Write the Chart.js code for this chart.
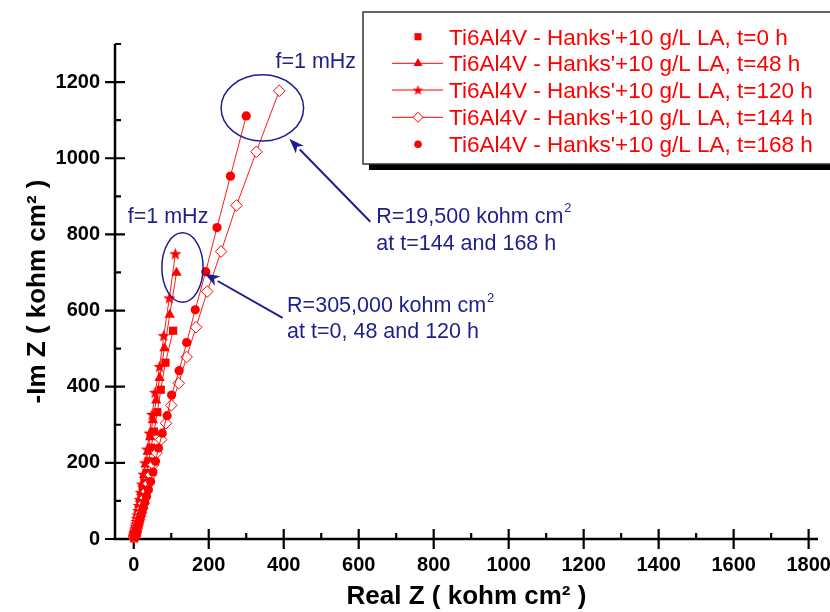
<!DOCTYPE html>
<html>
<head>
<meta charset="utf-8">
<script src="https://cdn.jsdelivr.net/npm/chart.js@4.4.1/dist/chart.umd.min.js"></script>
<style>
  html, body { margin: 0; padding: 0; background: #ffffff; }
  #wrap { width: 830px; height: 612px; position: relative; }
</style>
</head>
<body>
<div id="wrap"><canvas id="nyquist" width="830" height="612"></canvas></div>
<script>
// Nyquist data for Ti6Al4V in Hanks' + 10 g/L LA (kohm cm^2), low -> high frequency
const seriesLabels = [
  "Ti6Al4V - Hanks'+10 g/L LA, t=0 h",
  "Ti6Al4V - Hanks'+10 g/L LA, t=48 h",
  "Ti6Al4V - Hanks'+10 g/L LA, t=120 h",
  "Ti6Al4V - Hanks'+10 g/L LA, t=144 h",
  "Ti6Al4V - Hanks'+10 g/L LA, t=168 h"
];

const reZ_t0 = [105, 84.5, 72, 63, 54, 46, 39.5, 34, 29, 25, 21.5, 18.4, 15.7, 13.4, 11.5, 9.8, 8.4, 7.2, 6.1, 5.2, 4.5, 3.8, 3.3, 2.8, 2.4, 2, 1.7, 1.5, 1.3, 1.1];
const imZ_t0 = [547, 463, 392, 333, 282, 240, 204, 173, 147, 125, 106, 90, 77, 65, 55, 47, 40, 34, 29, 24.5, 21, 17.8, 15.1, 12.8, 10.9, 9.3, 7.9, 6.7, 5.7, 4.8];

const reZ_t48 = [114, 96, 82, 69, 60, 51, 44, 37.5, 32, 27.5, 23.5, 20, 17, 14.6, 12.5, 10.7, 9.1, 7.8, 6.7, 5.7, 4.9, 4.2, 3.6, 3.1, 2.6, 2.2, 1.9, 1.6, 1.4, 1.2, 1, 0.9];
const imZ_t48 = [699, 589, 501, 423, 364, 312, 267, 229, 196, 168, 144, 123, 105, 90, 77, 66, 56, 48, 41, 35, 30, 25.5, 21.8, 18.6, 15.9, 13.6, 11.6, 9.9, 8.5, 7.2, 6.2, 5.3];

const reZ_t120 = [111, 95, 80, 69, 57, 49, 42, 36, 30.5, 26, 22, 19, 16, 13.7, 11.7, 10, 8.6, 7.3, 6.2, 5.3, 4.5, 3.8, 3.3, 2.8, 2.4, 2, 1.7, 1.5, 1.3, 1.1, 0.9, 0.8];
const imZ_t120 = [749, 633, 534, 453, 385, 327, 278, 236, 200, 170, 144, 122, 104, 88, 75, 63, 54, 46, 39, 33, 28, 24, 20, 17, 14.5, 12.3, 10.4, 8.8, 7.5, 6.3, 5.4, 4.6];

const reZ_t144 = [388, 327, 274, 233, 196, 166, 141, 120, 100, 86, 73, 61, 52, 45, 39, 34, 29.5, 25.5, 22, 19, 16.5, 14.2, 12.3, 10.6, 9.2, 8, 6.9, 6, 5.2, 4.5, 3.9, 3.4, 3, 2.6, 2.3, 2, 1.8];
const imZ_t144 = [1177, 1017, 876, 755, 650, 556, 478, 409, 351, 304, 261, 226, 195, 168, 145, 125, 108, 93, 80, 69, 59.5, 51, 44, 38, 32.7, 28, 24, 20.7, 17.8, 15.3, 13.2, 11.3, 9.7, 8.3, 7.1, 6.1, 5.2];

const reZ_t168 = [300, 258, 222, 192, 164, 141, 121, 101, 89, 76, 66, 58, 51, 45, 39, 34, 29.5, 25.5, 22, 19, 16.5, 14.3, 12.4, 10.7, 9.3, 8.1, 7, 6.1, 5.3, 4.6, 4, 3.5, 3, 2.6, 2.3, 2, 1.7];
const imZ_t168 = [1111, 953, 818, 702, 602, 516, 442, 378, 324, 278, 239, 204, 176, 151, 130, 112, 96, 83, 72, 62, 53, 46, 40, 34.5, 29.8, 25.7, 22.2, 19.1, 16.5, 14.2, 12.3, 10.6, 9.1, 7.9, 6.8, 5.9, 5.1];

const xTickValues = [0, 200, 400, 600, 800, 1000, 1200, 1400, 1600, 1800];
const yTickValues = [0, 200, 400, 600, 800, 1000, 1200];

const RED = '#ff0000';
const NAVY = '#1e1e8c';
const FONT = "'Liberation Sans', Arial, sans-serif";

// five-pointed filled star used as a marker
function makeStar(r, color) {
  const s = Math.ceil(r * 2 + 2);
  const c = document.createElement('canvas');
  c.width = s; c.height = s;
  const g = c.getContext('2d');
  g.translate(s / 2, s / 2 + 0.5);
  g.beginPath();
  for (let i = 0; i < 10; i++) {
    const rr = i % 2 ? r * 0.42 : r;
    const a = -Math.PI / 2 + i * Math.PI / 5;
    g.lineTo(rr * Math.cos(a), rr * Math.sin(a));
  }
  g.closePath();
  g.fillStyle = color;
  g.fill();
  return c;
}
const starMarker = makeStar(6.5, RED);

const pts = (xs, ys) => xs.map((x, i) => ({ x: x, y: ys[i] }));

const markerStyles = [
  { pointStyle: 'rect', radius: 5.8, bg: RED, border: RED, bw: 0, legendLine: false },
  { pointStyle: 'triangle', radius: 6, bg: RED, border: RED, bw: 0, legendLine: true },
  { pointStyle: starMarker, radius: 6, bg: RED, border: RED, bw: 0, legendLine: true },
  { pointStyle: 'rectRot', radius: 5.8, bg: '#ffffff', border: RED, bw: 1, legendLine: true },
  { pointStyle: 'circle', radius: 4.6, bg: RED, border: RED, bw: 0, legendLine: false }
];

const seriesData = [
  pts(reZ_t0, imZ_t0),
  pts(reZ_t48, imZ_t48),
  pts(reZ_t120, imZ_t120),
  pts(reZ_t144, imZ_t144),
  pts(reZ_t168, imZ_t168)
];

const datasets = seriesData.map((d, i) => ({
  label: seriesLabels[i],
  data: d,
  showLine: true,
  borderColor: RED,
  borderWidth: 0.9,
  pointStyle: markerStyles[i].pointStyle,
  pointRadius: markerStyles[i].radius,
  pointBackgroundColor: markerStyles[i].bg,
  pointBorderColor: markerStyles[i].border,
  pointBorderWidth: markerStyles[i].bw,
  clip: false,
  order: 4 - i
}));

// axis lines with crossing major ticks and inward minor ticks
const axesPlugin = {
  id: 'originAxes',
  beforeDatasetsDraw(chart) {
    const { ctx, chartArea: a, scales: { x, y } } = chart;
    ctx.save();
    ctx.strokeStyle = '#000';
    ctx.lineWidth = 2.5;
    ctx.lineCap = 'butt';
    ctx.beginPath();
    ctx.moveTo(a.left, a.top); ctx.lineTo(a.left, a.bottom + 1.25);
    ctx.moveTo(a.left - 1.25, a.bottom); ctx.lineTo(a.right, a.bottom);
    ctx.stroke();
    ctx.lineWidth = 2.2;
    ctx.beginPath();
    for (let v = 0; v <= x.max; v += 100) {
      const px = x.getPixelForValue(v);
      const major = v % 200 === 0;
      ctx.moveTo(px, a.bottom - (major ? 10 : 6));
      ctx.lineTo(px, a.bottom + (major ? 10 : 0));
    }
    for (let v = 0; v <= y.max; v += 100) {
      const py = y.getPixelForValue(v);
      const major = v % 200 === 0;
      ctx.moveTo(a.left - (major ? 10 : 0), py);
      ctx.lineTo(a.left + (major ? 10 : 6), py);
    }
    ctx.stroke();
    ctx.restore();
  }
};

function textWithSup(ctx, text, sup, x, y, size) {
  ctx.font = size + 'px ' + FONT;
  ctx.fillText(text, x, y);
  const w = ctx.measureText(text).width;
  ctx.font = Math.round(size * 0.62) + 'px ' + FONT;
  ctx.fillText(sup, x + w + 1, y - size * 0.5);
}

function arrow(ctx, x1, y1, x2, y2) {
  const ang = Math.atan2(y2 - y1, x2 - x1);
  const len = 15, half = 5.5;
  const bx = x2 - len * Math.cos(ang), by = y2 - len * Math.sin(ang);
  ctx.beginPath();
  ctx.moveTo(x1, y1); ctx.lineTo(bx, by);
  ctx.stroke();
  ctx.beginPath();
  ctx.moveTo(x2, y2);
  ctx.lineTo(bx + half * Math.sin(ang), by - half * Math.cos(ang));
  ctx.lineTo(bx + 4 * Math.cos(ang), by + 4 * Math.sin(ang));
  ctx.lineTo(bx - half * Math.sin(ang), by + half * Math.cos(ang));
  ctx.closePath();
  ctx.fill();
}

// f=1 mHz markings and resistance notes
const notesPlugin = {
  id: 'notes',
  afterDraw(chart) {
    const { ctx, scales: { x, y } } = chart;
    const P = (vx, vy) => [x.getPixelForValue(vx), y.getPixelForValue(vy)];
    ctx.save();
    ctx.strokeStyle = NAVY;
    ctx.fillStyle = NAVY;
    ctx.lineWidth = 1.5;

    // ellipses around the lowest-frequency points
    const ell = [
      { cx: 343, cy: 1132, rx: 110, ry: 87 },
      { cx: 130, cy: 713, rx: 55, ry: 91 }
    ];
    ell.forEach(e => {
      const [cx, cy] = P(e.cx, e.cy);
      const rx = Math.abs(x.getPixelForValue(e.cx + e.rx) - cx);
      const ry = Math.abs(y.getPixelForValue(e.cy + e.ry) - cy);
      ctx.beginPath();
      ctx.ellipse(cx, cy, rx, ry, 0, 0, Math.PI * 2);
      ctx.stroke();
    });

    ctx.lineWidth = 2;
    let a = P(631, 833), b = P(415, 1051);
    arrow(ctx, a[0], a[1], b[0], b[1]);
    a = P(397, 581); b = P(189, 697);
    arrow(ctx, a[0], a[1], b[0], b[1]);

    ctx.textBaseline = 'alphabetic';
    ctx.textAlign = 'left';
    ctx.font = '21.5px ' + FONT;
    let p = P(378, 1238);
    ctx.fillText('f=1 mHz', p[0], p[1]);
    p = P(-16, 829);
    ctx.fillText('f=1 mHz', p[0], p[1]);

    p = P(647, 830);
    textWithSup(ctx, 'R=19,500 kohm cm', '2', p[0], p[1], 21.5);
    ctx.font = '21.5px ' + FONT;
    ctx.fillText('at t=144 and 168 h', p[0], p[1] + 27);

    p = P(409, 595);
    textWithSup(ctx, 'R=305,000 kohm cm', '2', p[0], p[1], 21.5);
    ctx.font = '21.5px ' + FONT;
    ctx.fillText('at t=0, 48 and 120 h', p[0], p[1] + 26);
    ctx.restore();
  }
};

// boxed legend with drop shadow
const legendPlugin = {
  id: 'boxLegend',
  afterDraw(chart) {
    const ctx = chart.ctx;
    const bx = 363, by = 12, bw = 480, bh = 152;
    ctx.save();
    ctx.fillStyle = '#000';
    ctx.fillRect(bx + 6, by + 6, bw, bh);
    ctx.fillStyle = '#fff';
    ctx.fillRect(bx, by, bw, bh);
    ctx.strokeStyle = '#333';
    ctx.lineWidth = 1.5;
    ctx.strokeRect(bx, by, bw, bh);

    const rows = [36.7, 63.3, 90, 117.3, 144.3];
    const symX = 418;
    chart.data.datasets.forEach((ds, i) => {
      const ry = rows[i];
      const m = markerStyles[i];
      if (m.legendLine) {
        ctx.strokeStyle = RED;
        ctx.lineWidth = 1;
        ctx.beginPath();
        ctx.moveTo(392, ry); ctx.lineTo(443, ry);
        ctx.stroke();
      }
      if (typeof m.pointStyle === 'string') {
        ctx.fillStyle = m.bg;
        ctx.strokeStyle = m.border;
        ctx.lineWidth = m.bw;
        Chart.helpers.drawPoint(ctx, { pointStyle: m.pointStyle, radius: m.radius - 0.8, rotation: 0, borderWidth: m.bw }, symX, ry);
      } else {
        const st = makeStar(5.5, RED);
        ctx.drawImage(st, symX - st.width / 2, ry - st.height / 2);
      }
      ctx.fillStyle = RED;
      ctx.font = '22.5px ' + FONT;
      ctx.textBaseline = 'alphabetic';
      ctx.textAlign = 'left';
      ctx.fillText(ds.label, 449, ry + 8);
    });
    ctx.restore();
  }
};

const plainNumber = v => String(v);

new Chart(document.getElementById('nyquist'), {
  type: 'scatter',
  data: { datasets: datasets },
  plugins: [axesPlugin, notesPlugin, legendPlugin],
  options: {
    responsive: false,
    animation: false,
    devicePixelRatio: 1,
    layout: { padding: { top: 44, right: 12, left: 0, bottom: 0 } },
    plugins: { legend: { display: false }, tooltip: { enabled: false } },
    scales: {
      x: {
        type: 'linear', min: -50, max: 1825,
        grid: { display: false, drawTicks: false },
        border: { display: false },
        afterBuildTicks: s => { s.ticks = xTickValues.map(v => ({ value: v })); },
        afterFit: s => { s.height = 73; s.paddingLeft = 0; s.paddingRight = 0; },
        ticks: { color: '#000', padding: 14, callback: plainNumber, font: { family: FONT, size: 20, weight: 'bold' } },
        title: { display: true, text: 'Real Z ( kohm cm² )', color: '#000', padding: { top: 0, bottom: 0 },
                 font: { family: FONT, size: 26, weight: 'bold' } }
      },
      y: {
        type: 'linear', min: 0, max: 1300,
        grid: { display: false, drawTicks: false },
        border: { display: false },
        afterBuildTicks: s => { s.ticks = yTickValues.map(v => ({ value: v })); },
        afterFit: s => { s.width = 115; s.paddingTop = 0; s.paddingBottom = 0; },
        ticks: { color: '#000', padding: 15, callback: plainNumber, font: { family: FONT, size: 20, weight: 'bold' } },
        title: { display: true, text: '-Im Z ( kohm cm² )', color: '#000', padding: { top: 22, bottom: 0 },
                 font: { family: FONT, size: 26, weight: 'bold' } }
      }
    }
  }
});
</script>
</body>
</html>
